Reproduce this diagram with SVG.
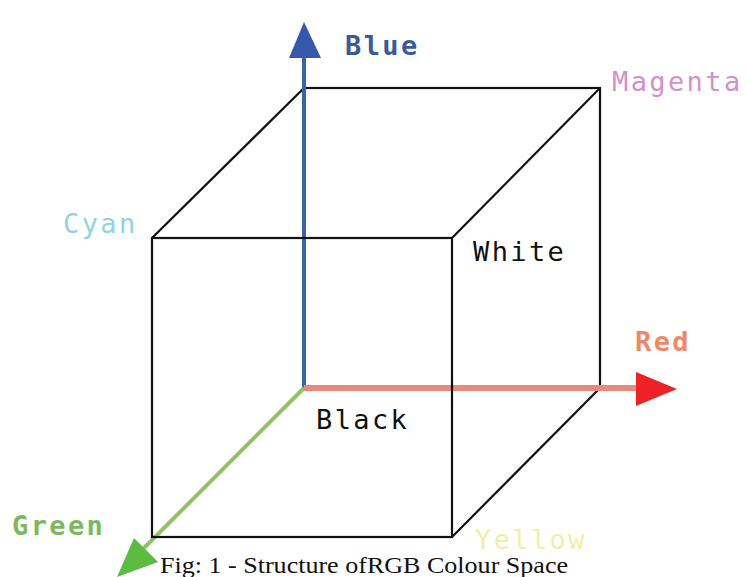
<svg xmlns="http://www.w3.org/2000/svg" width="747" height="577" viewBox="0 0 747 577">
<style>
.edge{stroke:#111;stroke-width:2.2;fill:none}
.lbl{font-family:"DejaVu Sans Mono",monospace;font-size:27px;letter-spacing:2.4px}
.b{font-weight:bold}
.cap{font-family:"Liberation Serif",serif;font-size:23px;fill:#111}
</style>
<rect width="747" height="577" fill="#fff"/>
<g id="cube">
<rect class="edge" x="304" y="88" width="296" height="300"/>
<line class="edge" x1="152" y1="238" x2="304" y2="88"/>
<line class="edge" x1="452" y1="238" x2="600" y2="88"/>
<line class="edge" x1="452" y1="537" x2="600" y2="388"/>
</g>
<g id="connectors">
<line x1="304" y1="388" x2="304" y2="55" stroke="#3d62aa" stroke-width="4"/>
<polygon points="304,22 289,58 321,58" fill="#3558ac"/>
<line x1="304" y1="388" x2="640" y2="388" stroke="#e8897c" stroke-width="6"/>
<polygon points="677,389 636,372 636,406" fill="#ec2226"/>
<line x1="304" y1="388" x2="140" y2="552" stroke="#8cc663" stroke-width="4"/>
<polygon points="117,577 134,538 158,562" fill="#5cbc42"/>
</g>
<g id="front">
<rect class="edge" x="152" y="238" width="300" height="299"/>
</g>
<g id="labels">
<text class="lbl b" x="345" y="55" fill="#3a5a9c" font-size="26" letter-spacing="0.5">Blue</text>
<text class="lbl" x="612" y="91" fill="#d58fcc">Magenta</text>
<text class="lbl" x="63" y="233" fill="#8fd3e3">Cyan</text>
<text class="lbl" x="473" y="261" fill="#111">White</text>
<text class="lbl b" x="635" y="351" fill="#f0876a" font-size="25" letter-spacing="5">Red</text>
<text class="lbl" x="316" y="429" fill="#111">Black</text>
<text class="lbl b" x="12" y="535" fill="#7cb95c" font-size="27" letter-spacing="2.2">Green</text>
<text class="lbl" x="475" y="549" fill="#f3eea6">Yellow</text>
<text class="cap" x="160" y="573" textLength="408" lengthAdjust="spacingAndGlyphs">Fig: 1 - Structure ofRGB Colour Space</text>
</g>
</svg>
